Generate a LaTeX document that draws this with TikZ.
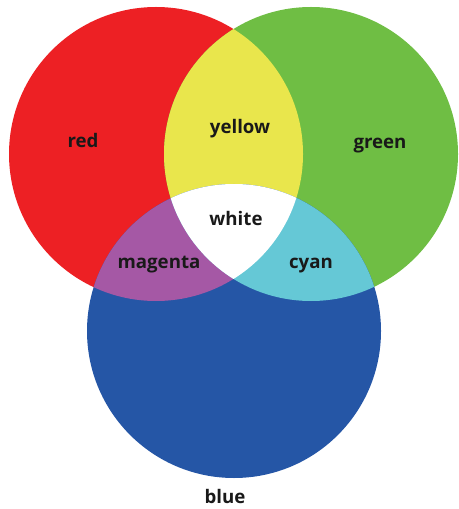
\documentclass[tikz,border=0pt]{standalone}
\usepackage{fontspec}
\setsansfont{Open Sans}
\definecolor{rgbred}{RGB}{237,32,36}
\definecolor{rgbgreen}{RGB}{111,190,68}
\definecolor{rgbblue}{RGB}{37,86,166}
\definecolor{rgbyellow}{RGB}{233,230,76}
\definecolor{rgbmagenta}{RGB}{165,88,165}
\definecolor{rgbcyan}{RGB}{101,200,214}

\begin{document}
\begin{tikzpicture}[x=0.75pt,y=-0.75pt,font=\sffamily\bfseries\fontsize{14}{16}\selectfont,
  lbl/.style={inner sep=0pt,anchor=base,text=black!90}]
  \useasboundingbox (0,0) rectangle (458,509);
  % circle centres
  \coordinate (cr) at (156,154);
  \coordinate (cg) at (311,154);
  \coordinate (cb) at (234,331);
  \def\rad{147}
  % primaries
  \fill[rgbred]   (cr) circle[radius=\rad];
  \fill[rgbgreen] (cg) circle[radius=\rad];
  \fill[rgbblue]  (cb) circle[radius=\rad];
  % pairwise overlaps
  \begin{scope}
    \clip (cr) circle[radius=\rad];
    \fill[rgbyellow]  (cg) circle[radius=\rad];
    \fill[rgbmagenta] (cb) circle[radius=\rad];
  \end{scope}
  \begin{scope}
    \clip (cg) circle[radius=\rad];
    \fill[rgbcyan] (cb) circle[radius=\rad];
  \end{scope}
  % all three
  \begin{scope}
    \clip (cr) circle[radius=\rad];
    \clip (cg) circle[radius=\rad];
    \fill[white] (cb) circle[radius=\rad];
  \end{scope}
  % labels (at their baselines)
  \node[lbl] (red)     at (83,148)  {red};
  \node[lbl] (yellow)  at (240,134) {yellow};
  \node[lbl] (green)   at (380,149) {green};
  \node[lbl] (white)   at (236,226) {white};
  \node[lbl] (magenta) at (159,268) {magenta};
  \node[lbl] (cyan)    at (311,268) {cyan};
  \node[lbl] (blue)    at (225,503) {blue};
\end{tikzpicture}
\end{document}
